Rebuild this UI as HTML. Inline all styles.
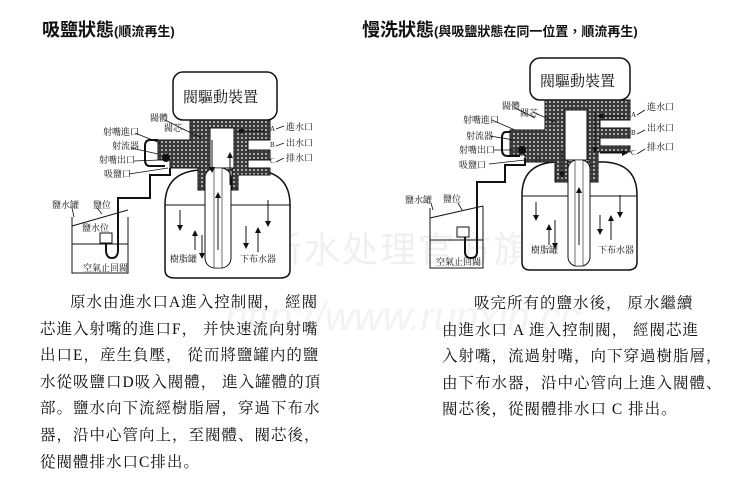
<!DOCTYPE html>
<html><head><meta charset="utf-8"><style>
html,body{margin:0;padding:0;background:#fff;}
body{width:740px;height:478px;position:relative;overflow:hidden;font-family:"Liberation Serif","Noto Serif CJK SC",serif;color:#111;}
.t{position:absolute;white-space:nowrap;}
.h{font-family:"Liberation Sans","Noto Sans CJK TC",sans-serif;font-weight:bold;font-size:18px;}
.h small{font-size:13px;}
.p{font-size:15.5px;letter-spacing:1px;line-height:26.6px;position:absolute;white-space:nowrap;}
svg{position:absolute;left:0;top:0;}
</style></head><body>
<svg width="740" height="478" font-family="Liberation Serif, Noto Serif CJK SC, serif" font-size="9" fill="#111">
<defs>
<pattern id="hp" width="4" height="4" patternUnits="userSpaceOnUse"><rect width="4" height="4" fill="#3a3a3a"/><circle cx="2" cy="2" r="1" fill="#ccc"/></pattern>
<marker id="ar" markerWidth="6" markerHeight="6" refX="3" refY="3" orient="auto"><path d="M0,0L6,3L0,6z" fill="#111"/></marker>
</defs>
<!-- watermark -->
<text x="228" y="262" font-size="36" fill="#f0f0f0" font-family="Noto Sans CJK SC, sans-serif" letter-spacing="2">潤新水处理官方旗舰店</text>
<text x="225" y="330" font-size="40" fill="#f3f3f3" font-style="italic" font-family="Liberation Sans, sans-serif">http://www.runxin.cc</text>

<!-- LEFT DIAGRAM -->
<g>
<rect x="173" y="72" width="104" height="48" rx="10" fill="#fff" stroke="#111" stroke-width="1.5"/>
<text x="183" y="102" font-size="15">閥驅動裝置</text>
<path d="M165,205 Q165,172 200,170 L255,170 Q290,172 290,205 L290,270 Q290,278 280,278 L175,278 Q165,278 165,270Z" fill="#fff" stroke="#111" stroke-width="1.5"/>
<line x1="165" y1="205" x2="290" y2="205" stroke="#111"/>
<path d="M190,120 H270 V140 H248 V150 H270 V160 H248 V168 H270 V175 H238 V190 H232 V168 H216 V190 H198 V168 H170 V160 H158 V140 H190Z" fill="url(#hp)" stroke="#111"/>
<rect x="210" y="128" width="24" height="40" fill="#fff" stroke="#111"/>
<rect x="205" y="168" width="26" height="100" rx="10" fill="#fff" stroke="#111"/>
<rect x="214" y="168" width="8" height="100" fill="#fff" stroke="#111" stroke-width=".6"/>
<path d="M158,140 H150 Q145,140 145,146 V160 Q145,166 150,166 H165" fill="none" stroke="#111" stroke-width="2"/>
<circle cx="166" cy="158" r="4" fill="#111"/>
<path d="M170,168 V175 H150 V198 H118 V250 Q118,258 112,258 Q106,258 106,250 V236" fill="none" stroke="#111" stroke-width="2"/>
<path d="M72,226 L128,210 M72,217 V273 H128 V217" fill="none" stroke="#111"/>
<line x1="72" y1="244" x2="128" y2="244" stroke="#111"/>
<rect x="100" y="233" width="12" height="10" fill="#fff" stroke="#111"/>
<g stroke="#111" stroke-width="1" marker-end="url(#ar)">
<line x1="180" y1="210" x2="180" y2="228"/><line x1="195" y1="250" x2="195" y2="233"/><line x1="202" y1="235" x2="202" y2="256"/>
<line x1="268" y1="200" x2="268" y2="224"/><line x1="258" y1="252" x2="258" y2="230"/><line x1="246" y1="226" x2="246" y2="246"/>
<line x1="218" y1="250" x2="218" y2="195"/><line x1="230" y1="185" x2="230" y2="155"/><line x1="212" y1="140" x2="212" y2="170"/>
<line x1="265" y1="131" x2="240" y2="131"/>
</g>
<text x="270" y="131" font-size="7">A</text><text x="270" y="147" font-size="7">B</text><text x="270" y="163" font-size="7">C</text>
<g stroke="#111" stroke-width=".8" fill="none"><path d="M276,129 L284,126"/><path d="M276,146 L284,143"/><path d="M276,162 L284,158"/>
<path d="M135,133 L160,143"/><path d="M131,148 L158,154"/><path d="M134,161 L160,160"/><path d="M129,174 L168,168"/><path d="M165,120 L185,130"/><path d="M183,129 L202,138"/>
<path d="M72,208 L74,217"/><path d="M97,208 L102,214"/></g>
<text x="286" y="130">進水口</text><text x="286" y="146">出水口</text><text x="286" y="161">排水口</text>
<text x="150" y="121">閥體</text><text x="164" y="131">閥芯</text>
<text x="103" y="135">射嘴進口</text><text x="112" y="149">射流器</text><text x="99" y="163">射嘴出口</text><text x="104" y="177">吸鹽口</text>
<text x="52" y="208">鹽水罐</text><text x="93" y="208">鹽位</text><text x="82" y="231">鹽水位</text><text x="83" y="271">空氣止回閥</text>
<text x="170" y="262">樹脂罐</text><text x="240" y="262">下布水器</text>
</g>

<!-- RIGHT DIAGRAM -->
<g>
<rect x="530" y="58" width="100" height="42" rx="10" fill="#fff" stroke="#111" stroke-width="1.5"/>
<text x="540" y="86" font-size="15">閥驅動裝置</text>
<path d="M522,195 Q522,164 555,162 L605,162 Q637,164 637,195 L637,262 Q637,270 628,270 L530,270 Q522,270 522,262Z" fill="#fff" stroke="#111" stroke-width="1.5"/>
<line x1="522" y1="196" x2="637" y2="196" stroke="#111"/>
<path d="M545,100 H630 V120 H600 V128 H630 V138 H600 V146 H630 V152 H598 V182 H590 V160 H568 V182 H555 V162 H525 V155 H510 V130 H545Z" fill="url(#hp)" stroke="#111"/>
<rect x="565" y="110" width="22" height="50" fill="#fff" stroke="#111"/>
<rect x="568" y="160" width="22" height="106" rx="9" fill="#fff" stroke="#111"/>
<rect x="575" y="160" width="8" height="106" fill="#fff" stroke="#111" stroke-width=".6"/>
<path d="M510,132 H506 Q502,132 502,138 V150 Q502,156 508,156 H520" fill="none" stroke="#111" stroke-width="2"/>
<circle cx="522" cy="150" r="4" fill="#111"/>
<path d="M525,158 V165 H505 V182 H477 V252 Q477,258 471,258 Q465,258 465,252 V234" fill="none" stroke="#111" stroke-width="2"/>
<path d="M430,218 L483,206 M430,208 V268 H483 V206" fill="none" stroke="#111"/>
<line x1="430" y1="240" x2="483" y2="240" stroke="#111"/>
<rect x="457" y="227" width="12" height="10" fill="#fff" stroke="#111"/>
<g stroke="#111" stroke-width="1" marker-end="url(#ar)">
<line x1="536" y1="202" x2="536" y2="218"/><line x1="549" y1="245" x2="549" y2="227"/><line x1="555" y1="220" x2="555" y2="246"/>
<line x1="620" y1="195" x2="620" y2="215"/><line x1="611" y1="240" x2="611" y2="218"/><line x1="600" y1="215" x2="600" y2="232"/>
<line x1="579" y1="245" x2="579" y2="190"/><line x1="562" y1="150" x2="562" y2="175"/><line x1="595" y1="112" x2="595" y2="150"/>
<line x1="625" y1="116" x2="600" y2="116"/><line x1="600" y1="153" x2="625" y2="153"/>
</g>
<text x="631" y="117" font-size="7">A</text><text x="631" y="135" font-size="7">B</text><text x="631" y="155" font-size="7">C</text>
<g stroke="#111" stroke-width=".8" fill="none"><path d="M637,115 L645,110"/><path d="M637,134 L645,130"/><path d="M637,154 L645,149"/>
<path d="M492,120 L515,130"/><path d="M490,136 L514,140"/><path d="M494,150 L518,150"/><path d="M489,164 L525,160"/><path d="M515,108 L535,118"/><path d="M533,112 L555,122"/>
<path d="M431,203 L433,210"/><path d="M458,203 L462,210"/></g>
<text x="647" y="110">進水口</text><text x="647" y="131">出水口</text><text x="647" y="150">排水口</text>
<text x="502" y="109">閥體</text><text x="520" y="116">閥芯</text>
<text x="463" y="123">射嘴進口</text><text x="466" y="139">射流器</text><text x="459" y="153">射嘴出口</text><text x="459" y="168">吸鹽口</text>
<text x="535" y="162" font-size="7">D</text>
<text x="405" y="203">鹽水罐</text><text x="443" y="202">鹽位</text><text x="436" y="265">空氣止回閥</text>
<text x="531" y="253">樹脂罐</text><text x="598" y="253">下布水器</text>
</g>
</svg>

<div class="t h" style="left:42px;top:16px;">吸鹽狀態<small>(順流再生)</small></div>
<div class="t h" style="left:362px;top:16px;">慢洗狀態<small>(與吸鹽狀態在同一位置，順流再生)</small></div>

<div class="p" style="left:40px;top:290px;">
<span style="padding-left:30px">原水由進水口A進入控制閥， 經閥</span><br>
芯進入射嘴的進口F， 并快速流向射嘴<br>
出口E，産生負壓， 從而將鹽罐内的鹽<br>
水從吸鹽口D吸入閥體， 進入罐體的頂<br>
部。鹽水向下流經樹脂層，穿過下布水<br>
器，沿中心管向上，至閥體、閥芯後，<br>
從閥體排水口C排出。
</div>
<div class="p" style="left:442px;top:291px;">
<span style="padding-left:32px">吸完所有的鹽水後， 原水繼續</span><br>
由進水口 A 進入控制閥， 經閥芯進<br>
入射嘴，流過射嘴，向下穿過樹脂層，<br>
由下布水器，沿中心管向上進入閥體、<br>
閥芯後，從閥體排水口 C 排出。
</div>
</body></html>
